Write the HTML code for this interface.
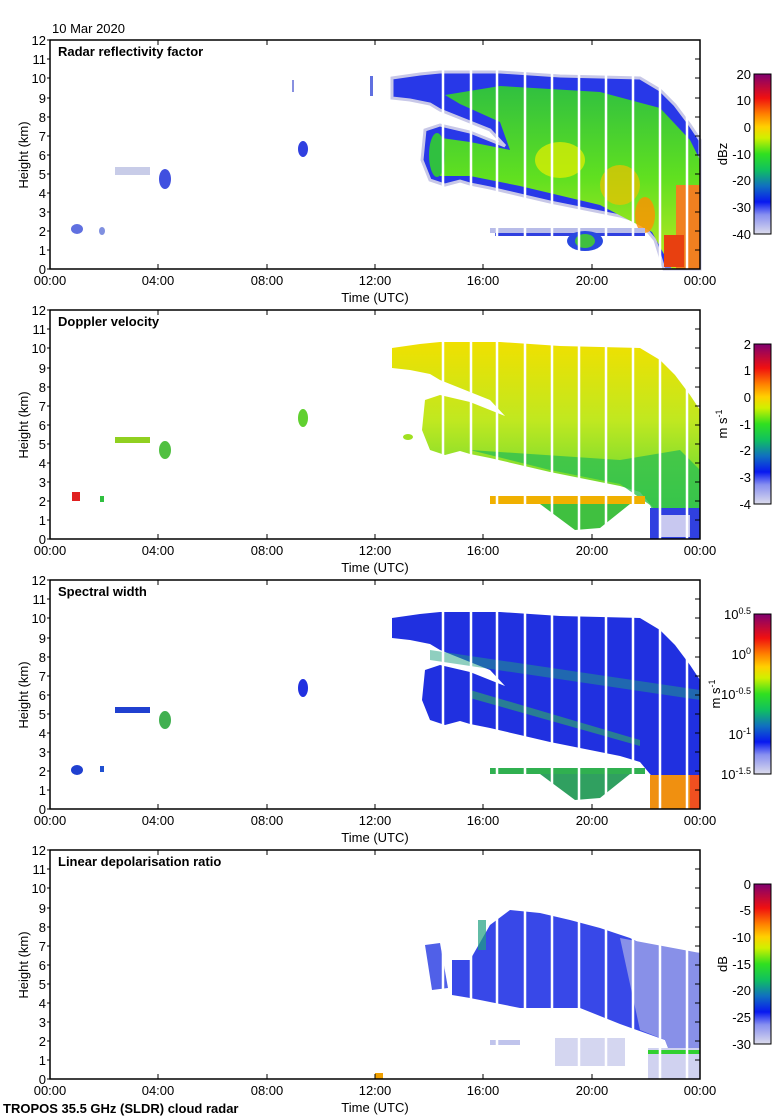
<!DOCTYPE html>
<html><head><meta charset="utf-8"><style>
html,body{margin:0;padding:0;background:#fff;}
svg{display:block;font-family:"Liberation Sans",sans-serif;}
</style></head><body>
<svg width="780" height="1120" viewBox="0 0 780 1120" xmlns="http://www.w3.org/2000/svg">
<defs>
<linearGradient id="cmap" x1="0" y1="1" x2="0" y2="0">
<stop offset="0" stop-color="#dcdcec"/><stop offset="0.12" stop-color="#8890f0"/><stop offset="0.2" stop-color="#0818f0"/><stop offset="0.3" stop-color="#1070c0"/><stop offset="0.4" stop-color="#10c060"/><stop offset="0.5" stop-color="#30e020"/><stop offset="0.6" stop-color="#d0f000"/><stop offset="0.67" stop-color="#ffd000"/><stop offset="0.75" stop-color="#ff8000"/><stop offset="0.85" stop-color="#f01010"/><stop offset="1" stop-color="#800070"/>
</linearGradient>
<linearGradient id="g1" x1="0" y1="0" x2="0" y2="1"><stop offset="0" stop-color="#30c040"/><stop offset="0.5" stop-color="#60e020"/><stop offset="1" stop-color="#c0e820"/></linearGradient>
<linearGradient id="g2" x1="0" y1="0" x2="0" y2="1"><stop offset="0" stop-color="#f0e000"/><stop offset="0.4" stop-color="#c0e820"/><stop offset="1" stop-color="#30d040"/></linearGradient>
<path id="cloud" d="M392,78 L420,74 L440,72 L500,72 L560,76 L640,78 L660,90 L675,105 L690,125 L700,140 L700,269 L664,269 L655,240 L640,222 L620,216 L600,212 L580,208 L550,202 L520,195 L490,188 L470,184 L460,181 L445,185 L430,180 L422,160 L425,130 L440,125 L470,132 L505,146 L490,130 L460,118 L440,110 L430,104 L410,100 L392,98 Z"/>
<path id="inner" d="M445,95 L500,86 L600,92 L660,108 L690,140 L700,160 L700,269 L672,269 L652,232 L600,205 L520,186 L470,176 L440,176 L432,160 L434,137 L470,142 L510,150 L500,122 L460,104 Z"/>
<g id="axes" fill="none" stroke="#000">
<rect x="50" y="40" width="650" height="229" stroke-width="1.5"/>
<path d="M47,269H50M47,250H50M47,231H50M47,212H50M47,193H50M47,174H50M47,155H50M47,136H50M47,117H50M47,98H50M47,78H50M47,59H50M47,40H50 M700,250H695M700,231H695M700,212H695M700,193H695M700,174H695M700,155H695M700,136H695M700,117H695M700,98H695M700,78H695M700,59H695 M158,269V264M267,269V264M375,269V264M483,269V264M592,269V264 M158,40V45M267,40V45M375,40V45M483,40V45M592,40V45"/>
</g>
<g id="ylab" font-size="13" text-anchor="end" fill="#000">
<text x="46" y="274">0</text><text x="46" y="255">1</text><text x="46" y="236">2</text><text x="46" y="217">3</text><text x="46" y="198">4</text><text x="46" y="179">5</text><text x="46" y="160">6</text><text x="46" y="141">7</text><text x="46" y="122">8</text><text x="46" y="103">9</text><text x="46" y="83">10</text><text x="46" y="64">11</text><text x="46" y="45">12</text>
<text transform="translate(28,155) rotate(-90)" text-anchor="middle">Height (km)</text>
<g text-anchor="middle"><text x="50" y="285">00:00</text><text x="158" y="285">04:00</text><text x="267" y="285">08:00</text><text x="375" y="285">12:00</text><text x="483" y="285">16:00</text><text x="592" y="285">20:00</text><text x="700" y="285">00:00</text><text x="375" y="302">Time (UTC)</text></g>
</g>
<g id="gaps" stroke="#fff" stroke-width="2.5"><path d="M443,60V269M471,60V269M497,60V269M525,60V269M552,60V269M579,60V269M606,60V269M633,60V269M660,60V269M687,60V269"/></g>
</defs>

<text x="52" y="33" font-size="13">10 Mar 2020</text>

<!-- Panel 1 -->
<g>
<use href="#cloud" fill="#2838e8" stroke="#c8c8e8" stroke-width="3"/>
<use href="#inner" fill="url(#g1)"/>
<ellipse cx="560" cy="160" rx="25" ry="18" fill="#e8f000" opacity="0.7"/>
<ellipse cx="620" cy="185" rx="20" ry="20" fill="#f0c000" opacity="0.7"/>
<ellipse cx="645" cy="215" rx="10" ry="18" fill="#ff9000" opacity="0.8"/>
<rect x="676" y="185" width="24" height="84" fill="#f08020"/>
<rect x="664" y="235" width="20" height="32" fill="#e84010"/>
<ellipse cx="437" cy="155" rx="8" ry="22" fill="#30c040"/>
<rect x="490" y="228" width="155" height="5" fill="#b8bce8"/>
<rect x="495" y="233" width="150" height="3" fill="#3040e0"/>
<ellipse cx="585" cy="241" rx="18" ry="10" fill="#2848e0"/>
<ellipse cx="585" cy="241" rx="10" ry="7" fill="#40c040"/>
<ellipse cx="77" cy="229" rx="6" ry="5" fill="#6070e0"/>
<ellipse cx="102" cy="231" rx="3" ry="4" fill="#8090e0"/>
<rect x="115" y="167" width="35" height="8" fill="#c8cce8"/>
<ellipse cx="165" cy="179" rx="6" ry="10" fill="#4050e0"/>
<ellipse cx="303" cy="149" rx="5" ry="8" fill="#3040e0"/>
<rect x="292" y="80" width="2" height="12" fill="#8890e0"/><rect x="370" y="76" width="3" height="20" fill="#6070e0"/>
<use href="#gaps"/>
<use href="#axes"/><use href="#ylab"/>
<text x="58" y="56" font-size="13" font-weight="bold">Radar reflectivity factor</text>
<rect x="754" y="74" width="17" height="160" fill="url(#cmap)" stroke="#000"/>
<g font-size="13" text-anchor="end"><text x="751" y="79">20</text><text x="751" y="105">10</text><text x="751" y="132">0</text><text x="751" y="159">-10</text><text x="751" y="185">-20</text><text x="751" y="212">-30</text><text x="751" y="239">-40</text></g>
<text transform="translate(727,154) rotate(-90)" font-size="13" text-anchor="middle">dBz</text>
</g>

<!-- Panel 2 -->
<g transform="translate(0,270)">
<use href="#cloud" fill="url(#g2)"/>
<path d="M470,180 L550,200 L620,214 L650,235 L664,269 L700,269 L700,200 L680,180 L620,190 Z" fill="#30c050" opacity="0.8"/>
<rect x="650" y="238" width="50" height="31" fill="#3040e0"/>
<rect x="660" y="245" width="30" height="22" fill="#c8c8f0"/>
<rect x="490" y="226" width="155" height="8" fill="#f0b000"/>
<path d="M540,234 L630,234 L600,258 L575,260 Z" fill="#40c040"/>
<rect x="72" y="222" width="8" height="9" fill="#e02020"/>
<rect x="100" y="226" width="4" height="6" fill="#30c040"/>
<rect x="115" y="167" width="35" height="6" fill="#90d020"/>
<ellipse cx="165" cy="180" rx="6" ry="9" fill="#50c040"/>
<ellipse cx="303" cy="148" rx="5" ry="9" fill="#60d030"/>
<ellipse cx="408" cy="167" rx="5" ry="3" fill="#a0e020"/>
<use href="#gaps"/>
<use href="#axes"/><use href="#ylab"/>
<text x="58" y="56" font-size="13" font-weight="bold">Doppler velocity</text>
<rect x="754" y="74" width="17" height="160" fill="url(#cmap)" stroke="#000"/>
<g font-size="13" text-anchor="end"><text x="751" y="79">2</text><text x="751" y="105">1</text><text x="751" y="132">0</text><text x="751" y="159">-1</text><text x="751" y="185">-2</text><text x="751" y="212">-3</text><text x="751" y="239">-4</text></g>
<text transform="translate(727,154) rotate(-90)" font-size="13" text-anchor="middle">m s<tspan dy="-5" font-size="9">-1</tspan></text>
</g>

<!-- Panel 3 -->
<g transform="translate(0,540)">
<use href="#cloud" fill="#2030e0"/>
<path d="M430,110 L700,150 L700,160 L430,120 Z" fill="#20a080" opacity="0.5"/>
<path d="M470,150 L640,200 L640,206 L470,158 Z" fill="#30b060" opacity="0.6"/>
<rect x="650" y="235" width="50" height="34" fill="#f09010"/>
<rect x="690" y="235" width="10" height="34" fill="#f05020"/>
<rect x="490" y="228" width="155" height="6" fill="#30b050"/>
<path d="M540,234 L630,234 L600,258 L575,260 Z" fill="#30a060"/>
<ellipse cx="77" cy="230" rx="6" ry="5" fill="#2040d0"/>
<rect x="100" y="226" width="4" height="6" fill="#2050d0"/>
<rect x="115" y="167" width="35" height="6" fill="#2040d0"/>
<ellipse cx="165" cy="180" rx="6" ry="9" fill="#40b050"/>
<ellipse cx="303" cy="148" rx="5" ry="9" fill="#2030e0"/>
<use href="#gaps"/>
<use href="#axes"/><use href="#ylab"/>
<text x="58" y="56" font-size="13" font-weight="bold">Spectral width</text>
<rect x="754" y="74" width="17" height="160" fill="url(#cmap)" stroke="#000"/>
<g font-size="13" text-anchor="end"><text x="751" y="79">10<tspan dy="-5" font-size="9">0.5</tspan></text><text x="751" y="119">10<tspan dy="-5" font-size="9">0</tspan></text><text x="751" y="159">10<tspan dy="-5" font-size="9">-0.5</tspan></text><text x="751" y="199">10<tspan dy="-5" font-size="9">-1</tspan></text><text x="751" y="239">10<tspan dy="-5" font-size="9">-1.5</tspan></text></g>
<text transform="translate(720,154) rotate(-90)" font-size="13" text-anchor="middle">m s<tspan dy="-5" font-size="9">-1</tspan></text>
</g>

<!-- Panel 4 -->
<g transform="translate(0,810)">
<path d="M452,150 L470,150 L490,115 L510,100 L540,103 L570,110 L600,118 L630,128 L650,138 L700,143 L700,269 L680,269 L665,230 L620,214 L580,198 L520,198 L490,192 L470,188 L452,185 Z" fill="#3848e8"/>
<path d="M620,128 L700,143 L700,269 L680,269 L665,230 L640,220 Z" fill="#8890e8"/>
<path d="M425,135 L440,133 L448,178 L432,180 Z" fill="#5060e8"/>
<rect x="490" y="230" width="30" height="5" fill="#c0c4ec"/>
<rect x="555" y="228" width="70" height="28" fill="#d4d6f0"/>
<rect x="648" y="238" width="52" height="31" fill="#d0d2f0"/>
<rect x="648" y="240" width="52" height="4" fill="#30d030"/>
<rect x="478" y="110" width="8" height="30" fill="#20a080" opacity="0.7"/>
<rect x="375" y="263" width="8" height="6" fill="#f0a000"/>
<use href="#gaps"/>
<use href="#axes"/><use href="#ylab"/>
<text x="58" y="56" font-size="13" font-weight="bold">Linear depolarisation ratio</text>
<rect x="754" y="74" width="17" height="160" fill="url(#cmap)" stroke="#000"/>
<g font-size="13" text-anchor="end"><text x="751" y="79">0</text><text x="751" y="105">-5</text><text x="751" y="132">-10</text><text x="751" y="159">-15</text><text x="751" y="185">-20</text><text x="751" y="212">-25</text><text x="751" y="239">-30</text></g>
<text transform="translate(727,154) rotate(-90)" font-size="13" text-anchor="middle">dB</text>
</g>

<text x="3" y="1113" font-size="13" font-weight="bold">TROPOS 35.5 GHz (SLDR) cloud radar</text>
</svg>
</body></html>
